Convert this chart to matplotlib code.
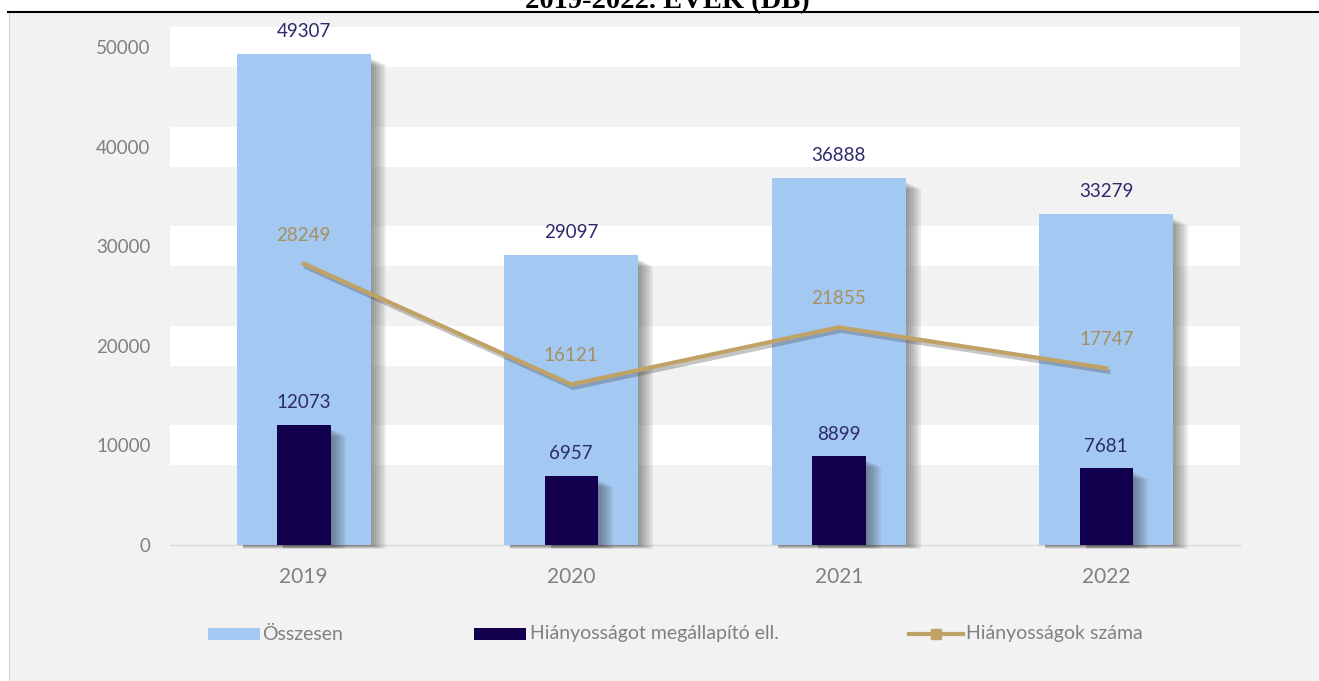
import matplotlib
matplotlib.use("Agg")
import matplotlib.pyplot as plt
import matplotlib.patheffects as pe
from matplotlib.patches import Rectangle
from matplotlib.lines import Line2D
import numpy as np

plt.rcParams['font.family'] = ['Lato', 'DejaVu Sans']

# adatok
evek = ['2019', '2020', '2021', '2022']
osszesen = [49307, 29097, 36888, 33279]
hianyossagot_megallapito = [12073, 6957, 8899, 7681]
hianyossagok_szama = [28249, 16121, 21855, 17747]

cim = '2019-2022. ÉVEK (DB)'
nev_osszes = 'Összesen'
nev_ell = 'Hiányosságot megállapító ell.'
nev_hiany = 'Hiányosságok száma'

szin_kek = '#a3c8f2'
szin_sotet = '#12004f'
szin_vonal = '#c0a266'
szin_cimke_kek = '#2d2a6b'
szin_cimke_vonal = '#a8905e'
szin_szurke = '#808080'

W, H = 1319, 681
fig = plt.figure(figsize=(W / 100, H / 100), dpi=100, facecolor='white')

# szurke hatter es keret
fig.add_artist(Rectangle((9 / W, 0), 1 - 9 / W, 1 - 12 / H, transform=fig.transFigure,
                         facecolor='#f2f2f2', edgecolor='none', zorder=-10))
fig.add_artist(Line2D([9 / W, 9 / W], [0, 1 - 12 / H], transform=fig.transFigure,
                      color='#d0d0d0', lw=0.8))
fig.add_artist(Line2D([8 / W, 1], [1 - 11.5 / H, 1 - 11.5 / H], transform=fig.transFigure,
                      color='black', lw=1.5))
# a cim felul le van vagva, mint az eredetin
fig.text(667 / W, 1 - 8 / H, cim, ha='center', va='baseline', fontsize=20.5,
         fontweight='bold', family='Liberation Serif')

ax = fig.add_axes([170 / W, 136 / H, 1070 / W, 533 / H])
ax.set_facecolor('none')
x = np.arange(len(evek))
ax.set_xlim(-0.5, 3.5)
ymax = 53514
ax.set_ylim(0, ymax)

px_x = 1 / 267.5          # egy pixel x irányban
px_y = ymax / 533         # egy pixel y irányban

# vastag feher racsvonalak
for v in range(10000, 60000, 10000):
    ax.axhspan(v - 2000, v + 2000, color='white', zorder=0, lw=0)


def arnyek(xk, ertekek, szel, z):
    for xi, v in zip(xk, ertekek):
        bal = xi - szel / 2
        jobb = xi + szel / 2
        for k in range(8):
            r = Rectangle((bal + 6 * px_x, -(1 + 0.4 * k) * px_y),
                          (jobb + (2 * k + 1) * px_x) - (bal + 6 * px_x),
                          v - (4 + k) * px_y + (1 + 0.4 * k) * px_y,
                          facecolor='#404040', alpha=0.085, lw=0, zorder=z, clip_on=False)
            ax.add_patch(r)


arnyek(x, osszesen, 0.5, 1)
ax.bar(x, osszesen, width=0.5, color=szin_kek, zorder=2)
arnyek(x, hianyossagot_megallapito, 0.2, 3)
ax.bar(x, hianyossagot_megallapito, width=0.2, color=szin_sotet, zorder=4)

ax.plot(x, hianyossagok_szama, color=szin_vonal, lw=3, zorder=5, solid_joinstyle='miter',
        path_effects=[pe.SimpleLineShadow(offset=(1.5, -2.5), shadow_color='#404040', alpha=0.3),
                      pe.Normal()])

for xi, v in zip(x, osszesen):
    ax.annotate(f'{v}', (xi, v), xytext=(0, 16), textcoords='offset points',
                ha='center', va='center', fontsize=13.5, color=szin_cimke_kek, zorder=6)
for xi, v in zip(x, hianyossagot_megallapito):
    ax.annotate(f'{v}', (xi, v), xytext=(0, 16), textcoords='offset points',
                ha='center', va='center', fontsize=13.5, color=szin_cimke_kek, zorder=6)
for xi, v in zip(x, hianyossagok_szama):
    ax.annotate(f'{v}', (xi, v), xytext=(0, 20.5), textcoords='offset points',
                ha='center', va='center', fontsize=13.5, color=szin_cimke_vonal, zorder=6)

for s in ['top', 'right', 'left']:
    ax.spines[s].set_visible(False)
ax.spines['bottom'].set_color('#d9d9d9')
ax.spines['bottom'].set_linewidth(1)
ax.spines['bottom'].set_zorder(0.5)

ax.set_xticks(x)
ax.set_xticklabels(evek)
ax.set_yticks(range(0, 60000, 10000))
ax.tick_params(axis='y', length=0, pad=14, labelsize=13.5, labelcolor=szin_szurke)
ax.tick_params(axis='x', length=0, pad=16, labelsize=15, labelcolor=szin_szurke)

# jelmagyarazat kezzel
ly = 1 - 634 / H
fig.add_artist(Rectangle((208 / W, ly - 6 / H), 52 / W, 12 / H, transform=fig.transFigure,
                         facecolor=szin_kek, lw=0))
fig.text(262 / W, ly, nev_osszes, va='center', ha='left', fontsize=14, color=szin_szurke)
fig.add_artist(Rectangle((474 / W, ly - 6 / H), 52 / W, 12 / H, transform=fig.transFigure,
                         facecolor=szin_sotet, lw=0))
fig.text(530 / W, ly, nev_ell, va='center', ha='left', fontsize=14, color=szin_szurke)
fig.add_artist(Line2D([909 / W, 963 / W], [ly, ly], transform=fig.transFigure,
                      color=szin_vonal, lw=3))
fig.add_artist(Line2D([936 / W], [ly], transform=fig.transFigure, color=szin_vonal,
                      marker='s', markersize=7, lw=0))
fig.text(966 / W, ly, nev_hiany, va='center', ha='left', fontsize=14, color=szin_szurke)

fig.savefig('out.png', dpi=100, facecolor=fig.get_facecolor())
